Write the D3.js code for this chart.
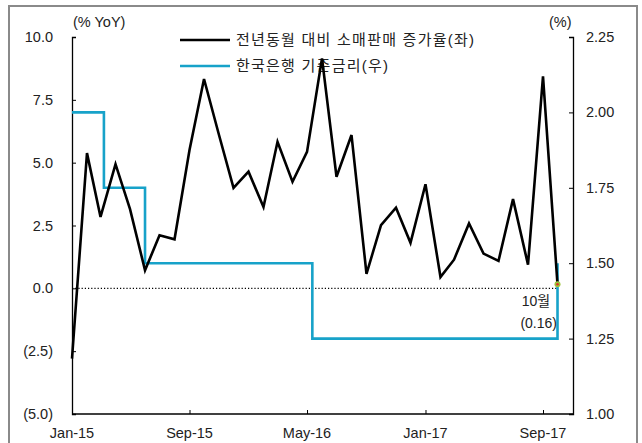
<!DOCTYPE html>
<html>
<head>
<meta charset="utf-8">
<script src="https://cdn.jsdelivr.net/npm/d3@7"></script>
<style>
  body { margin: 0; background: #fff; }
  text { font-family: "Liberation Sans", "Noto Sans CJK KR", sans-serif; fill: #222; }
</style>
</head>
<body>
<div id="chart"></div>
<script>
const FRAME_WIDTH = 642;
const FRAME_HEIGHT = 443;
const MARGINS = {left: 72, right: 69, top: 37, bottom: 29};

// retail sales yoy (%), monthly Jan-15 .. Oct-17
const months = d3.timeMonths(new Date(2015, 0, 1), new Date(2017, 10, 1));
const retail = [-2.8, 5.38, 2.84, 4.94, 3.15, 0.72, 2.11, 1.95, 5.5, 8.33,
                6.1, 4.0, 4.64, 3.24, 5.83, 4.24, 5.43, 9.15, 4.44, 6.1,
                0.58, 2.51, 3.21, 1.81, 4.14, 0.45, 1.14, 2.58, 1.38, 1.09,
                3.55, 0.94, 8.43, 0.16];

// base rate (%), change dates
const rateDates = ["2015-01-01", "2015-03-08", "2015-06-01", "2016-05-12", "2017-10-01"];
const rateValues = [2.00, 1.75, 1.50, 1.25, 1.50];

const leftTicks = [-5, -2.5, 0, 2.5, 5, 7.5, 10];
const rightTicks = [1.00, 1.25, 1.50, 1.75, 2.00, 2.25];
const xTickDates = ["2015-01-01", "2015-09-01", "2016-05-01", "2017-01-01", "2017-09-01"];

const legendLabels = ["전년동월 대비 소매판매 증가율(좌)", "한국은행 기준금리(우)"];
const legendWidths = [238, 152];
const BLACK = "#000";
const BLUE = "#17a2c9";

const parse = d3.timeParse("%Y-%m-%d");
const fmtMonth = d3.timeFormat("%b-%y");

const svg = d3.select("#chart").append("svg")
    .attr("width", FRAME_WIDTH)
    .attr("height", FRAME_HEIGHT);

// outer frame
svg.append("rect")
    .attr("x", 9).attr("y", 6)
    .attr("width", 628).attr("height", 460)
    .attr("fill", "none")
    .attr("stroke", "#8a8a8a")
    .attr("stroke-width", 2);

const x = d3.scaleTime()
    .domain([parse(xTickDates[0]), parse(xTickDates[4])])
    .range([MARGINS.left, 543]);
const yL = d3.scaleLinear().domain([-5, 10]).range([FRAME_HEIGHT - MARGINS.bottom, MARGINS.top]);
const yR = d3.scaleLinear().domain([1, 2.25]).range([FRAME_HEIGHT - MARGINS.bottom, MARGINS.top]);
const right = FRAME_WIDTH - MARGINS.right;
const bottom = FRAME_HEIGHT - MARGINS.bottom;

const fmtL = (d) => d < 0 ? "(" + d3.format(".1f")(-d) + ")" : d3.format(".1f")(d);

// axes
const axL = svg.append("g")
    .attr("transform", "translate(" + MARGINS.left + ",0)")
    .call(d3.axisRight(yL).tickValues(leftTicks).tickSize(4).tickFormat(""));
const axR = svg.append("g")
    .attr("transform", "translate(" + right + ",0)")
    .call(d3.axisLeft(yR).tickValues(rightTicks).tickSize(4).tickFormat(""));
const axB = svg.append("g")
    .attr("transform", "translate(0," + bottom + ")")
    .call(d3.axisTop(x).tickValues(xTickDates.map(parse)).tickSize(4).tickFormat(""));
[axL, axR, axB].forEach((g) => {
    g.select(".domain").attr("stroke", "#000").attr("stroke-width", 1.3);
    g.selectAll(".tick line").attr("stroke", "#000");
});
axB.select(".domain").attr("d", "M" + MARGINS.left + ",0H" + right);

svg.append("g").selectAll("text")
    .data(leftTicks).enter().append("text")
    .attr("x", 53).attr("y", (d) => yL(d) + 5)
    .attr("text-anchor", "end").style("font-size", "14.5px")
    .text(fmtL);
svg.append("g").selectAll("text")
    .data(rightTicks).enter().append("text")
    .attr("x", 586).attr("y", (d) => yR(d) + 5)
    .style("font-size", "14.5px")
    .text((d) => d3.format(".2f")(d));
svg.append("g").selectAll("text")
    .data(xTickDates).enter().append("text")
    .attr("x", (d) => x(parse(d))).attr("y", 438)
    .attr("text-anchor", "middle").style("font-size", "14.5px")
    .text((d) => fmtMonth(parse(d)));

svg.append("text").attr("x", 73).attr("y", 27).style("font-size", "14.5px").text("(% YoY)");
svg.append("text").attr("x", 549).attr("y", 27).style("font-size", "14.5px").text("(%)");

// legend
const legend = svg.append("g");
[BLACK, BLUE].forEach((c, i) => {
    legend.append("line")
        .attr("x1", 180).attr("x2", 230)
        .attr("y1", 40 + i * 26).attr("y2", 40 + i * 26)
        .attr("stroke", c).attr("stroke-width", 2.5);
    legend.append("text")
        .attr("x", 236).attr("y", 45 + i * 26)
        .attr("textLength", legendWidths[i])
        .attr("lengthAdjust", "spacing")
        .style("font-size", "15px")
        .text(legendLabels[i]);
});

// zero line
svg.append("line")
    .attr("x1", MARGINS.left).attr("x2", x(months[months.length - 1]))
    .attr("y1", yL(0)).attr("y2", yL(0))
    .attr("stroke", "#000").attr("stroke-width", 1.2)
    .attr("stroke-dasharray", "1.2,2");

// base rate
svg.append("path")
    .datum(rateDates.map((d, i) => [parse(d), rateValues[i]]))
    .attr("fill", "none")
    .attr("stroke", BLUE).attr("stroke-width", 2.6)
    .attr("d", d3.line().curve(d3.curveStepAfter)
        .x((d) => x(d[0])).y((d) => yR(d[1])));

// retail sales
svg.append("path")
    .datum(retail.map((v, i) => [months[i], v]))
    .attr("fill", "none")
    .attr("stroke", BLACK).attr("stroke-width", 2.6)
    .attr("stroke-linejoin", "miter")
    .attr("d", d3.line().x((d) => x(d[0])).y((d) => yL(d[1])));

// last point marker + note
const last = months.length - 1;
svg.append("circle")
    .attr("cx", x(months[last])).attr("cy", yL(retail[last]))
    .attr("r", 3).attr("fill", "#9cc43a");
svg.append("circle")
    .attr("cx", x(months[last])).attr("cy", yL(retail[last]))
    .attr("r", 1.3).attr("fill", "#e0302a");
svg.append("text")
    .attr("x", 536).attr("y", 306)
    .attr("text-anchor", "middle").style("font-size", "14px")
    .text("10월");
svg.append("text")
    .attr("x", 557).attr("y", 328)
    .attr("text-anchor", "end").style("font-size", "14px")
    .text("(" + d3.format(".2f")(retail[last]) + ")");
</script>
</body>
</html>
